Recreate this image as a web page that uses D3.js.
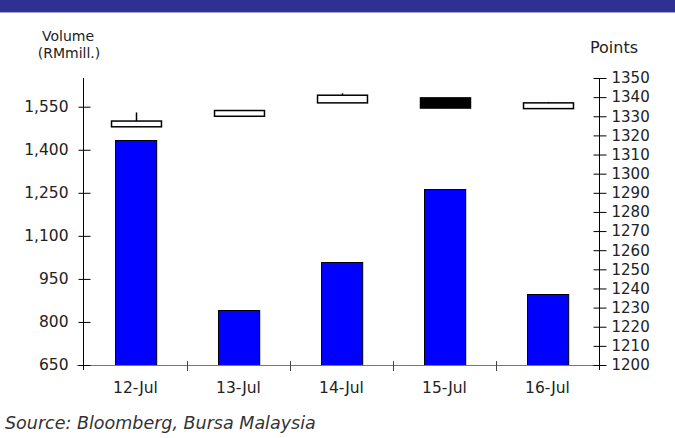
<!DOCTYPE html>
<html><head><meta charset="utf-8">
<script src="https://cdn.jsdelivr.net/npm/d3@7"></script>
<style>body{margin:0;background:#fff;}svg{display:block;font-family:"DejaVu Sans",Verdana,sans-serif;}</style>
</head><body><svg id="c" width="675" height="438"></svg>
<script>
const categories = ["12-Jul","13-Jul","14-Jul","15-Jul","16-Jul"];
const volume = [1435, 842, 1010, 1262, 897];
const openPts = [1324.5, 1330.0, 1337.0, 1339.6, 1334.0];
const closePts = [1327.5, 1333.0, 1341.0, 1334.3, 1337.0];
const highPts = [1332.0, 1333.0, 1342.0, 1339.6, 1337.5];
const lowPts = [1324.5, 1330.0, 1337.0, 1334.3, 1334.0];
const leftTicks = [650, 800, 950, 1100, 1250, 1400, 1550];
const rightTicks = [1200,1210,1220,1230,1240,1250,1260,1270,1280,1290,1300,1310,1320,1330,1340,1350];

const svg = d3.select("#c");
const L = 83, R = 599, B = 365, T = 78;
const x = d3.scaleBand().domain(categories).range([L+1, R]);
const yL = d3.scaleLinear().domain([650, 1650]).range([B, T]);
const yR = d3.scaleLinear().domain([1200, 1350]).range([B, T]);

// header band
svg.append("rect").attr("x",0).attr("y",0).attr("width",675).attr("height",12).attr("fill","#2e3192");
svg.append("line").attr("x1",0).attr("x2",675).attr("y1",12.5).attr("y2",12.5).attr("stroke","#a4a6cf").attr("stroke-width",1);

// bars
const bw = x.bandwidth()*0.4;
svg.append("g").selectAll("rect").data(categories).join("rect")
  .attr("x",(d)=>Math.round(x(d)+x.bandwidth()/2-bw/2)+0.5)
  .attr("y",(d,i)=>Math.round(yL(volume[i]))+0.5)
  .attr("width",bw)
  .attr("height",(d,i)=>B-Math.round(yL(volume[i])))
  .attr("fill","#0000ff").attr("stroke","#000").attr("stroke-width",1);

// x axis
const xa = svg.append("g").attr("transform",`translate(0,${B})`);
xa.append("line").attr("x1",77).attr("x2",R+6).attr("y1",0.5).attr("y2",0.5).attr("stroke","#777");
xa.selectAll("line.t").data(x.domain().slice(1)).join("line").attr("class","t")
  .attr("x1",d=>Math.round(x(d))+0.5).attr("x2",d=>Math.round(x(d))+0.5).attr("y1",-4).attr("y2",6).attr("stroke","#444");
xa.selectAll("text").data(categories).join("text")
  .attr("x",d=>x(d)+x.bandwidth()/2).attr("y",28).attr("text-anchor","middle")
  .attr("font-size",15.5).attr("fill","#222").text(d=>d);

// left axis
const la = svg.append("g").attr("transform",`translate(${L+0.5},0)`)
  .call(d3.axisLeft(yL).tickValues(leftTicks).tickFormat(d3.format(",")).tickSize(5).tickPadding(10));
la.select(".domain").attr("d",`M0,${T}V${B+5}`).attr("stroke","#000");
la.selectAll(".tick line").attr("x1",-5).attr("x2",7).attr("stroke","#000");
la.selectAll(".tick text").attr("font-size",15.5).attr("fill","#222").attr("font-family","DejaVu Sans").attr("x",-15);

// right axis
const ra = svg.append("g").attr("transform",`translate(${R+0.5},0)`)
  .call(d3.axisRight(yR).tickValues(rightTicks).tickFormat(d3.format("d")).tickSize(7).tickPadding(6));
ra.select(".domain").attr("d",`M0,${T}V${B+5}`).attr("stroke","#000");
ra.selectAll(".tick line").attr("x1",-6).attr("x2",7).attr("stroke","#000");
ra.selectAll(".tick text").attr("font-size",15).attr("fill","#222").attr("font-family","DejaVu Sans").attr("x",12);

// candles
const cw = x.bandwidth()*0.485;
const cg = svg.append("g");
categories.forEach((c,i)=>{
  const cx = Math.round(x(c)+x.bandwidth()/2)+0.5;
  cg.append("line").attr("x1",cx).attr("x2",cx)
    .attr("y1",yR(highPts[i])).attr("y2",yR(lowPts[i])).attr("stroke","#000").attr("stroke-width",1.5);
  const top = yR(Math.max(openPts[i],closePts[i])), bot = yR(Math.min(openPts[i],closePts[i]));
  cg.append("rect").attr("x",cx-cw/2).attr("y",top).attr("width",cw).attr("height",Math.max(bot-top,1))
    .attr("fill", closePts[i]>=openPts[i] ? "#fff" : "#000").attr("stroke","#000").attr("stroke-width",1.5);
});

// titles
svg.append("text").attr("x",68).attr("y",41).attr("text-anchor","middle").attr("font-size",14).attr("fill","#222").text("Volume");
svg.append("text").attr("x",69).attr("y",58).attr("text-anchor","middle").attr("font-size",14).attr("fill","#222").text("(RMmill.)");
svg.append("text").attr("x",614).attr("y",53).attr("text-anchor","middle").attr("font-size",16).attr("fill","#222").text("Points");
svg.append("text").attr("x",5).attr("y",429).attr("font-size",17.5).attr("font-style","italic").attr("fill","#333").text("Source: Bloomberg, Bursa Malaysia");
</script></body></html>
